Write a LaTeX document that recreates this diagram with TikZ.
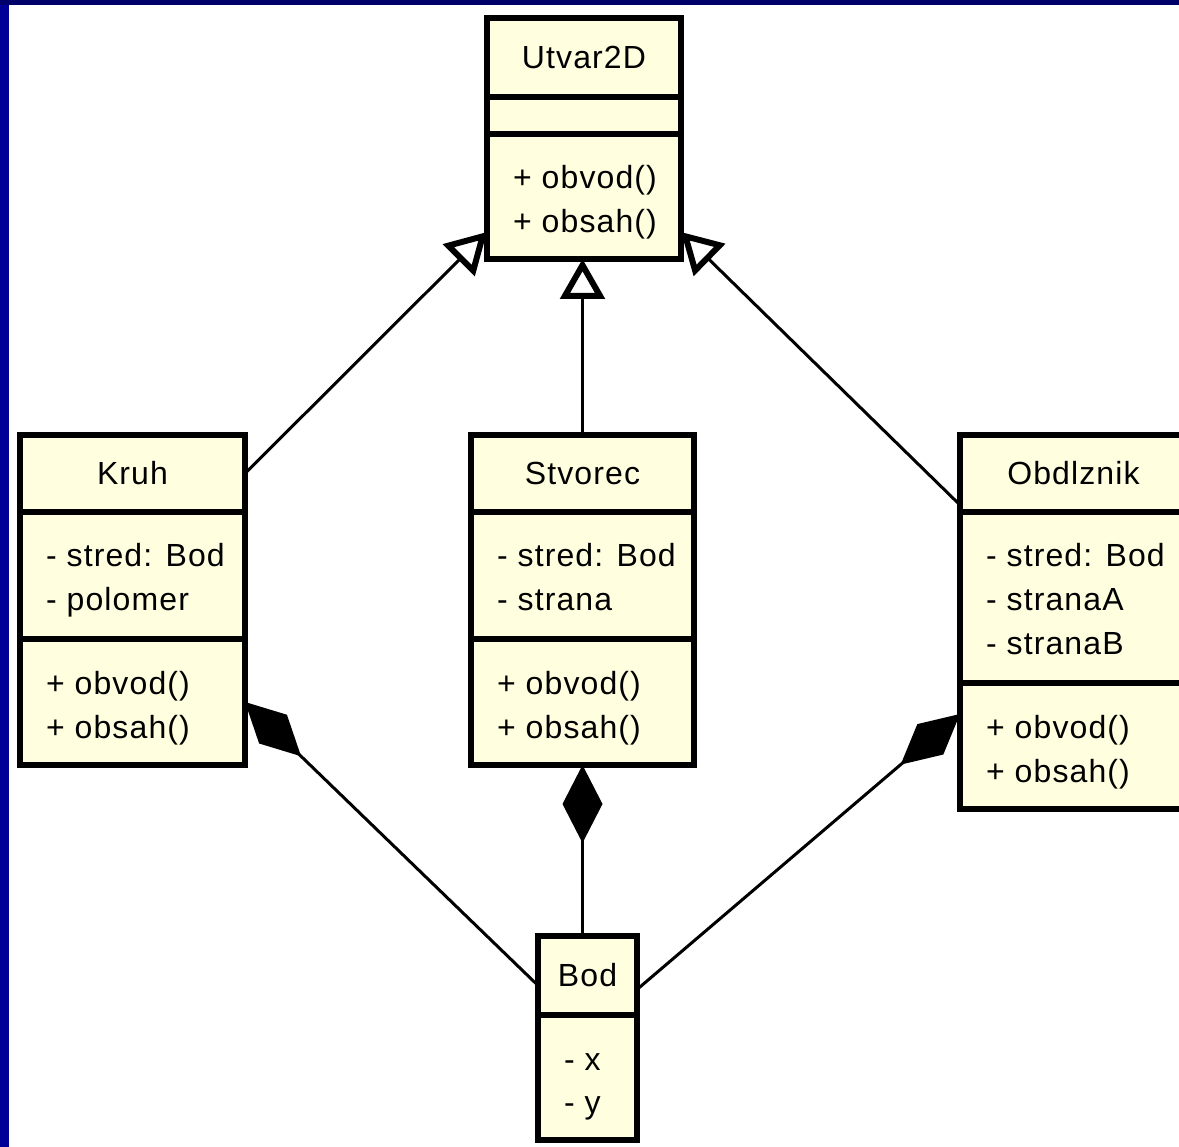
\documentclass[tikz,border=0pt]{standalone}
\usepackage{fontspec}
\newfontfamily\umlfont{Liberation Sans}[LetterSpace=3.5]
\usetikzlibrary{arrows.meta,calc}
\definecolor{umlfill}{RGB}{255,255,224}
\definecolor{bandtop}{RGB}{0,0,107}
\definecolor{bandleft}{RGB}{0,0,153}
\begin{document}
\begin{tikzpicture}[x=1pt,y=-1pt,
  umlbox/.style={draw, line width=6pt, fill=umlfill, inner sep=0pt, outer sep=0pt,
    font=\umlfont\fontsize{32}{32}\selectfont},
  txt/.style={inner sep=0pt, outer sep=0pt, anchor=base west,
    font=\umlfont\fontsize{32}{32}\selectfont},
  inherit/.style={line width=3pt, -{Triangle[length=40pt, width=44pt, line width=6pt, fill=white]}},
  compose/.style={line width=3pt, -{Diamond[length=78pt, width=40pt]}}]

% page, background and blue frame
\useasboundingbox (0,0) rectangle (1179,1147);
\clip (0,0) rectangle (1179,1147);
\fill[white] (0,0) rectangle (1179,1147);
\fill[bandleft] (0,0) rectangle (8.5,1147);
\fill[bandtop] (0,0) rectangle (1179,5);

% Utvar2D
\node[umlbox, minimum width=194pt, minimum height=79pt] (utvH) at (584,57.5) {Utvar2D};
\node[umlbox, minimum width=194pt, minimum height=37pt] (utvA) at (584,115.5) {};
\node[umlbox, minimum width=194pt, minimum height=125pt] (utvM) at (584,196.5) {};
\node[txt] (utvM1) at (513,189) {+ obvod()};
\node[txt] (utvM2) at (513,233) {+ obsah()};

% Kruh
\node[umlbox, minimum width=225pt, minimum height=77pt] (kruhH) at (132.5,473.5) {Kruh};
\node[umlbox, minimum width=225pt, minimum height=127pt] (kruhA) at (132.5,575.5) {};
\node[umlbox, minimum width=225pt, minimum height=126pt] (kruhM) at (132.5,702) {};
\node[txt] (kruhA1) at (46,566) {- stred: Bod};
\node[txt] (kruhA2) at (46,610) {- polomer};
\node[txt] (kruhM1) at (46,694) {+ obvod()};
\node[txt] (kruhM2) at (46,738) {+ obsah()};

% Stvorec
\node[umlbox, minimum width=223pt, minimum height=77pt] (stvH) at (582.5,473.5) {Stvorec};
\node[umlbox, minimum width=223pt, minimum height=127pt] (stvA) at (582.5,575.5) {};
\node[umlbox, minimum width=223pt, minimum height=126pt] (stvM) at (582.5,702) {};
\node[txt] (stvA1) at (497,566) {- stred: Bod};
\node[txt] (stvA2) at (497,610) {- strana};
\node[txt] (stvM1) at (497,694) {+ obvod()};
\node[txt] (stvM2) at (497,738) {+ obsah()};

% Obdlznik
\node[umlbox, minimum width=227pt, minimum height=77pt] (obdH) at (1073.5,473.5) {Obdlznik};
\node[umlbox, minimum width=227pt, minimum height=171pt] (obdA) at (1073.5,597.5) {};
\node[umlbox, minimum width=227pt, minimum height=126pt] (obdM) at (1073.5,746) {};
\node[txt] (obdA1) at (986,566) {- stred: Bod};
\node[txt] (obdA2) at (986,610) {- stranaA};
\node[txt] (obdA3) at (986,654) {- stranaB};
\node[txt] (obdM1) at (986,738) {+ obvod()};
\node[txt] (obdM2) at (986,782) {+ obsah()};

% Bod
\node[umlbox, minimum width=99pt, minimum height=79pt] (bodH) at (587.5,975.5) {Bod};
\node[umlbox, minimum width=99pt, minimum height=125pt] (bodA) at (587.5,1077.5) {};
\node[txt] (bodA1) at (564,1070) {- x};
\node[txt] (bodA2) at (564,1113) {- y};

% generalisations
\coordinate (utvL) at ($(utvM.south west)+(0,-27)$);
\coordinate (utvR) at ($(utvM.south east)+(0,-27)$);
\coordinate (obdL) at ($(obdH.south west)+(0,-7)$);
\draw[inherit] (kruhH.east) -- (utvL);
\draw[inherit] (stvH.north) -- (stvH.north |- utvM.south);
\draw[inherit] (obdL) -- (utvR);

% compositions
\coordinate (bodL) at ($(bodH.west)+(0,10)$);
\coordinate (bodR) at ($(bodH.east)+(0,14)$);
\coordinate (obdC) at ($(obdM.north west)+(0,31)$);
\draw[compose] (bodL) -- (kruhM.east);
\draw[compose] (stvM.south |- bodH.north) -- (stvM.south);
\draw[compose] (bodR) -- (obdC);
\end{tikzpicture}
\end{document}
